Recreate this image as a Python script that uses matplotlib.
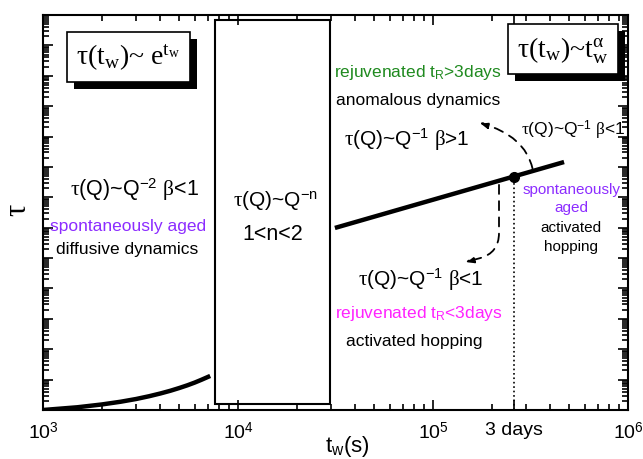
import matplotlib as mpl
mpl.use('Agg')
import matplotlib.pyplot as plt
import matplotlib.patheffects as pe
from matplotlib.patches import Rectangle
from matplotlib.transforms import blended_transform_factory

plt.rcParams['font.family'] = ['Liberation Sans', 'DejaVu Sans']
plt.rcParams['mathtext.fontset'] = 'custom'
plt.rcParams['mathtext.rm'] = 'Liberation Serif'
plt.rcParams['mathtext.it'] = 'Liberation Serif:italic'
plt.rcParams['mathtext.sf'] = 'Liberation Sans'
plt.rcParams['mathtext.default'] = 'rm'

# early regime: exponential growth of tau with waiting time
tw_exp = [1000, 1500, 2000, 2500, 3000, 3500, 4000, 4500, 5000, 5500, 6000, 6500, 7000, 7200]
tau_exp = [1.0, 1.23, 1.52, 1.87, 2.30, 2.84, 3.50, 4.3, 5.3, 6.5, 8.0, 9.9, 12.2, 13.2]

# late regime: power law
tw_pow = [31400, 470000]
tau_pow = [9.8e5, 1.45e8]

# 3 days marker
t_3days = 259200
tau_3days = 4.8e7

# intermediate box (x extent in seconds)
box_x = [7600, 29500]

# dashed arrows: (start, tip)
arrow_up = [(326000, 7.2e7), (168000, 3.0e9)]
arrow_down = [(218000, 3.16e7), (142000, 7.0e4)]

xticks = [1e3, 1e4, 1e5, t_3days, 1e6]
xticklabels = [r'10$^{\mathsf{3}}$', r'10$^{\mathsf{4}}$', r'10$^{\mathsf{5}}$', '3 days', r'10$^{\mathsf{6}}$']

fig = plt.figure(figsize=(6.43, 4.6), dpi=100)
ax = fig.add_axes([43/643, 49/460, 585/643, 395/460])
ax.set_xscale('log')
ax.set_yscale('log')
ax.set_xlim(1e3, 1e6)
ax.set_ylim(1, 1e13)

ax.plot(tw_exp, tau_exp, color='black', lw=3.2, solid_capstyle='butt')
ax.plot(tw_pow, tau_pow, color='black', lw=3.2, solid_capstyle='butt')
ax.plot([t_3days], [tau_3days], 'o', color='black', ms=7)
ax.vlines(t_3days, 1, tau_3days, color='black', lw=1.2, linestyles=':')

trans = blended_transform_factory(ax.transData, ax.transAxes)
ax.add_patch(Rectangle((box_x[0], 0.015), box_x[1] - box_x[0], 0.972,
                       transform=trans, fill=False, lw=1.5, ec='black'))

ax.annotate('', xy=arrow_up[1], xytext=arrow_up[0],
            arrowprops=dict(arrowstyle='-|>,head_length=0.5,head_width=0.2', color='black',
                            lw=1.3, ls=(0, (5, 4)),
                            connectionstyle='angle3,angleA=100,angleB=-15'))
ax.annotate('', xy=arrow_down[1], xytext=arrow_down[0],
            arrowprops=dict(arrowstyle='-|>,head_length=0.5,head_width=0.2', color='black',
                            lw=1.3, ls=(0, (5, 4)),
                            connectionstyle='angle,angleA=90,angleB=15,rad=20'))

# axes styling
ax.tick_params(which='both', direction='in', top=True, right=True, width=1.2)
ax.tick_params(which='major', length=7, labelsize=14, pad=8)
ax.tick_params(which='minor', length=4)
ax.set_xticks(xticks)
ax.set_xticklabels(xticklabels)
ax.xaxis.set_minor_formatter(plt.NullFormatter())
ax.yaxis.set_major_locator(mpl.ticker.LogLocator(base=10, numticks=20))
ax.yaxis.set_minor_locator(mpl.ticker.LogLocator(base=10, subs=range(2, 10), numticks=20))
ax.yaxis.set_major_formatter(plt.NullFormatter())
ax.yaxis.set_minor_formatter(plt.NullFormatter())
for s in ax.spines.values():
    s.set_linewidth(1.5)

ax.set_ylabel('τ', family='Liberation Serif', fontsize=22, ha='center', va='center')
ax.yaxis.set_label_coords(-0.043, 0.509)
ax.set_xlabel(r't$_{\mathsf{w}}$(s)', fontsize=16, ha='center', va='center')
ax.xaxis.set_label_coords(0.52, -0.09)

# formula boxes with shadow
shadow = [pe.SimplePatchShadow(offset=(5, -5), shadow_rgbFace='black', alpha=1), pe.Normal()]
for txt, pos in [(r'τ(t$_{\mathrm{w}}$)~ e$^{t_{\mathrm{w}}}$', (0.146, 0.894)),
                 (r'τ(t$_{\mathrm{w}}$)~t$^{\alpha}_{\mathrm{w}}$', (0.889, 0.913))]:
    t = ax.text(pos[0], pos[1], txt, transform=ax.transAxes, ha='center', va='center',
                family='Liberation Serif', fontsize=20,
                bbox=dict(boxstyle='square,pad=0.35', fc='white', ec='black', lw=1.2))
    fig.canvas.draw()
    t.get_bbox_patch().set_path_effects(shadow)

purple = '#8c2cff'
green = '#1f8a1f'
magenta = '#ff22ff'

labels = [
    (r'rejuvenated t$_{\mathsf{R}}$>3days', 0.641, 0.856, green, 12.5),
    ('anomalous dynamics', 0.641, 0.787, 'black', 12.5),
    (r'$\tau$(Q)~Q$^{\mathsf{-1}}$ $\beta$>1', 0.621, 0.686, 'black', 15),
    (r'$\tau$(Q)~Q$^{\mathsf{-1}}$ $\beta$<1', 0.906, 0.711, 'black', 12.5),
    (r'$\tau$(Q)~Q$^{\mathsf{-2}}$ $\beta$<1', 0.157, 0.559, 'black', 15.5),
    ('spontaneously aged', 0.145, 0.466, purple, 12.5),
    ('diffusive dynamics', 0.143, 0.408, 'black', 12.5),
    (r'$\tau$(Q)~Q$^{\mathsf{-n}}$', 0.398, 0.534, 'black', 15),
    ('1<n<2', 0.393, 0.448, 'black', 15.5),
    ('spontaneously', 0.903, 0.559, purple, 11),
    ('aged', 0.903, 0.514, purple, 11),
    ('activated', 0.903, 0.463, 'black', 11),
    ('hopping', 0.903, 0.415, 'black', 11),
    (r'$\tau$(Q)~Q$^{\mathsf{-1}}$ $\beta$<1', 0.646, 0.332, 'black', 15),
    (r'rejuvenated t$_{\mathsf{R}}$<3days', 0.642, 0.246, magenta, 12.5),
    ('activated hopping', 0.634, 0.177, 'black', 12.5),
]
for txt, x, y, c, fs in labels:
    ax.text(x, y, txt, transform=ax.transAxes, ha='center', va='center', color=c, fontsize=fs)

plt.savefig('out.png', dpi=100)
plt.close()
